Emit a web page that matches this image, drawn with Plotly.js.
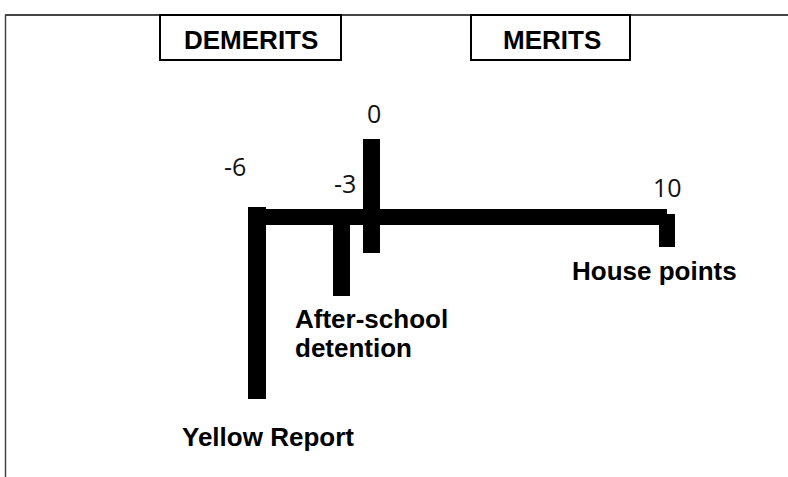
<!DOCTYPE html>
<html>
<head>
<meta charset="utf-8">
<script src="https://cdn.plot.ly/plotly-3.0.1.min.js"></script>
<style>html,body{margin:0;padding:0;background:#fff;}#chart{width:788px;height:477px;}</style>
</head>
<body>
<div id="chart"></div>
<script>
// ---- data ----
const headers = ["DEMERITS", "MERITS"];
const pointValues = [-6, -3, 0, 10];
const pointLabels = ["-6", "-3", "0", "10"];
const categories = ["Yellow Report", "After-school detention", "", "House points"];

// ---- layout geometry (diagram positions, pixel-like axis units) ----
const lineGeom = {x0: 248, x1: 667, y0: 209, y1: 225};
const barGeom = [
  {x0: 248, x1: 266, y0: 207, y1: 399},
  {x0: 333, x1: 350, y0: 225, y1: 296},
  {x0: 363, x1: 380, y0: 139, y1: 253},
  {x0: 659, x1: 675, y0: 214, y1: 247}
];
const valueLabelPos = [
  {x: 234.5, y: 166}, {x: 345, y: 183}, {x: 373.5, y: 113}, {x: 667, y: 186.5}
];
const catLabelPos = [
  {x: 267.5, y: 436.5, anchor: "center"},
  {x: 293, y: 333.5, anchor: "left", wrap: true},
  null,
  {x: 654.5, y: 270.5, anchor: "center"}
];
const headerBoxes = [
  {x0: 160, x1: 341, y0: 15, y1: 60, tx: 250.5, ty: 39.5},
  {x0: 471, x1: 630, y0: 15, y1: 60, tx: 552, ty: 39.5}
];

const boldFont = {family: "Liberation Sans, Arial, sans-serif", size: 26, color: "#000", weight: 700};
const wrapFont = {family: "Liberation Sans, Arial, sans-serif", size: 22.3, color: "#000", weight: 700};
const numFont = {family: "Open Sans, sans-serif", size: 25, color: "#111"};

const shapes = [];
const annotations = [];

// frame
shapes.push({type: "line", xref: "x", yref: "y", x0: 5, x1: 788, y0: 15, y1: 15, line: {color: "#444", width: 2}});
shapes.push({type: "line", xref: "x", yref: "y", x0: 5.5, x1: 5.5, y0: 15, y1: 477, line: {color: "#444", width: 1.5}});

// header boxes
headerBoxes.forEach((b, i) => {
  shapes.push({type: "rect", xref: "x", yref: "y", x0: b.x0, x1: b.x1, y0: b.y0, y1: b.y1, line: {color: "#000", width: 2}, fillcolor: "rgba(0,0,0,0)"});
  annotations.push({x: b.tx, y: b.ty, xref: "x", yref: "y", text: headers[i], showarrow: false, xanchor: "center", yanchor: "middle", font: boldFont});
});

// main line
shapes.push({type: "rect", xref: "x", yref: "y", x0: lineGeom.x0, x1: lineGeom.x1, y0: lineGeom.y0, y1: lineGeom.y1, line: {width: 0}, fillcolor: "#000"});

// bars, value labels, category labels
pointValues.forEach((v, i) => {
  const g = barGeom[i];
  shapes.push({type: "rect", xref: "x", yref: "y", x0: g.x0, x1: g.x1, y0: g.y0, y1: g.y1, line: {width: 0}, fillcolor: "#000"});
  const p = valueLabelPos[i];
  annotations.push({x: p.x, y: p.y, xref: "x", yref: "y", text: pointLabels[i], showarrow: false, xanchor: "center", yanchor: "middle", font: numFont});
  const c = catLabelPos[i];
  if (c && categories[i]) {
    if (c.wrap) {
      const txt = categories[i].split(" ").map(s => "<span style='font-size:26px'>" + s + "</span>").join("<br>");
      annotations.push({x: c.x, y: c.y, xref: "x", yref: "y", text: txt, showarrow: false, xanchor: "left", yanchor: "middle", align: "left", font: wrapFont});
    } else {
      annotations.push({x: c.x, y: c.y, xref: "x", yref: "y", text: categories[i], showarrow: false, xanchor: c.anchor, yanchor: "middle", font: boldFont});
    }
  }
});

const layout = {
  width: 788, height: 477,
  margin: {l: 0, r: 0, t: 0, b: 0, pad: 0},
  paper_bgcolor: "#fff", plot_bgcolor: "#fff",
  xaxis: {range: [0, 788], visible: false, fixedrange: true},
  yaxis: {range: [477, 0], visible: false, fixedrange: true},
  showlegend: false,
  shapes: shapes,
  annotations: annotations
};

Plotly.newPlot("chart", [{x: pointValues.map((v, i) => (barGeom[i].x0 + barGeom[i].x1) / 2), y: pointValues.map(() => null), type: "scatter", mode: "markers", hoverinfo: "skip"}], layout, {staticPlot: true, displayModeBar: false});
</script>
</body>
</html>
